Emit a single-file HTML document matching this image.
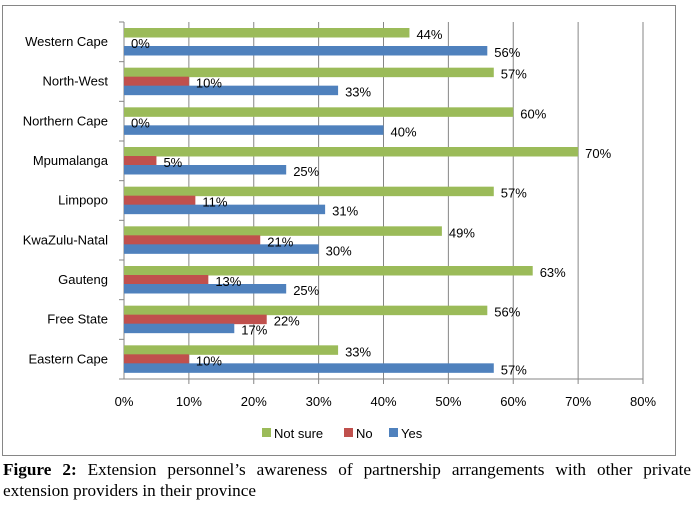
<!DOCTYPE html>
<html><head><meta charset="utf-8"><style>
body{margin:0;background:#fff;width:694px;height:506px;overflow:hidden;font-family:"Liberation Sans",sans-serif}
#cap{position:absolute;left:3px;top:459px;width:688px;font-family:"Liberation Serif",serif;font-size:17.2px;line-height:21px;text-align:justify;text-align-last:left;color:#000}
</style></head><body>
<svg id="chart" width="694" height="458" style="position:absolute;left:0;top:0" font-family="Liberation Sans, sans-serif"></svg>
<div id="cap"><b>Figure 2:</b> Extension personnel’s awareness of partnership arrangements with other private extension providers in their province</div>
<script>
const categories=["Western Cape","North-West","Northern Cape","Mpumalanga","Limpopo","KwaZulu-Natal","Gauteng","Free State","Eastern Cape"];
const notSure=[44,57,60,70,57,49,63,56,33];
const no=[0,10,0,5,11,21,13,22,10];
const yes=[56,33,40,25,31,30,25,17,57];
const ticks=[0,10,20,30,40,50,60,70,80];
const NS="http://www.w3.org/2000/svg";
const svg=document.getElementById('chart');
const x0=124,x1=643,yTop=22,yBot=379;
const xs=v=>x0+(v/80)*(x1-x0);
const band=(yBot-yTop)/categories.length;
function el(t,a,p){const e=document.createElementNS(NS,t);for(const k in a)e.setAttribute(k,a[k]);(p||svg).appendChild(e);return e;}
const frame=el('rect',{x:2.5,y:5.5,width:673,height:450,fill:'#fff',stroke:'#868686'});


ticks.forEach(t=>{
 const g=el('line',{x1:xs(t),x2:xs(t),y1:yTop,y2:yBot+(t===0?0:5),stroke:'#868686'});
 
 
 const tx=el('text',{x:xs(t),y:406,'text-anchor':'middle','font-size':13,fill:'#000'});
 tx.textContent=t+'%';
 
 
});
el('line',{x1:x0,x2:x0,y1:yTop,y2:yBot,stroke:'#868686'});
el('line',{x1:x0,x2:x1,y1:yBot,y2:yBot,stroke:'#868686'});
for(let i=0;i<=categories.length;i++){el('line',{x1:x0-5,x2:x0,y1:yTop+i*band,y2:yTop+i*band,stroke:'#868686'});}
const series=[[notSure,'#9bbb59','not-sure'],[no,'#c0504d','no'],[yes,'#4f81bd','yes']];
const labels=[];
categories.forEach((c,i)=>{
 const top=yTop+i*band+6;
 const lab=el('text',{x:108,y:top+18,'text-anchor':'end','font-size':13,fill:'#000'});
 lab.textContent=c;
 
 
 series.forEach(([arr,col,nm],s)=>{
  const y=top+s*9;
  const r=el('rect',{x:x0,y:y,width:xs(arr[i])-x0,height:9.5,fill:col});
  
  
  labels.push([xs(arr[i])+7,y+11,arr[i]]);
 });
});
labels.forEach(([x,y,v])=>{
  const t=el('text',{x:x,y:y,'font-size':13,fill:'#000'});
  t.textContent=v+'%';
  
  
});
const leg=[['Not sure','#9bbb59',262],['No','#c0504d',344],['Yes','#4f81bd',389]];
leg.forEach(([n,c,x])=>{
 const r=el('rect',{x:x,y:428,width:9,height:9,fill:c});
 
 
 const t=el('text',{x:x+12,y:438,'font-size':13,fill:'#000'});
 t.textContent=n;
 
 
});
</script>
</body></html>
